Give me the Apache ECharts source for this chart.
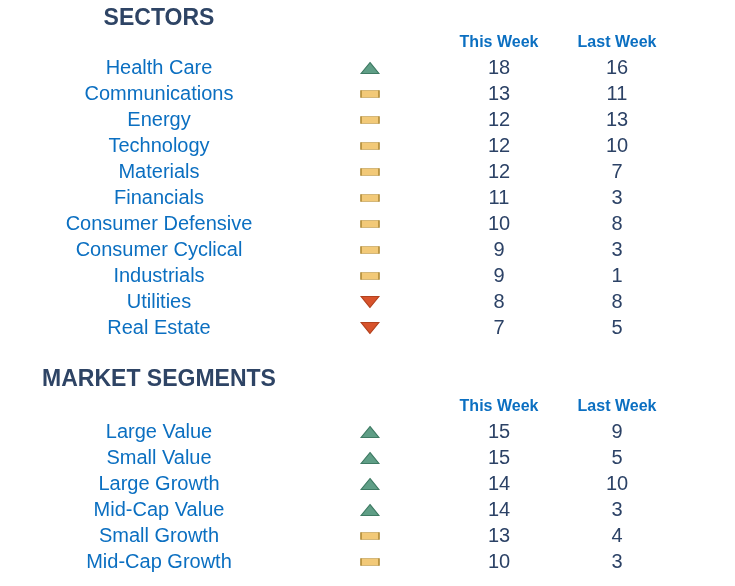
<!DOCTYPE html>
<html>
<head>
<meta charset="utf-8">
<script src="https://cdn.jsdelivr.net/npm/echarts@6/dist/echarts.min.js"></script>
<style>
  html, body { margin: 0; padding: 0; background: #fff; }
  #chart { width: 735px; height: 586px; }
</style>
</head>
<body>
<div id="chart"></div>
<script>
// sectors table
var sectorNames = ['Health Care', 'Communications', 'Energy', 'Technology', 'Materials', 'Financials',
  'Consumer Defensive', 'Consumer Cyclical', 'Industrials', 'Utilities', 'Real Estate'];
var sectorTrend = ['up', 'flat', 'flat', 'flat', 'flat', 'flat', 'flat', 'flat', 'flat', 'down', 'down'];
var sectorThisWeek = [18, 13, 12, 12, 12, 11, 10, 9, 9, 8, 7];
var sectorLastWeek = [16, 11, 13, 10, 7, 3, 8, 3, 1, 8, 5];

// market segments table
var segmentNames = ['Large Value', 'Small Value', 'Large Growth', 'Mid-Cap Value', 'Small Growth', 'Mid-Cap Growth'];
var segmentTrend = ['up', 'up', 'up', 'up', 'flat', 'flat'];
var segmentThisWeek = [15, 15, 14, 14, 13, 10];
var segmentLastWeek = [9, 5, 10, 3, 4, 3];

var columnHeaders = ['This Week', 'Last Week'];

var FONT = '"Liberation Sans", Arial, sans-serif';
var BLUE = '#0b6fc1';
var NAVY = '#2c4266';
// x position of each column on the hidden value axis
var col = { name: 159, trend: 370, thisWk: 499, lastWk: 617 };

var trendStyle = {
  up: { symbol: 'triangle', symbolSize: [18, 11], symbolRotate: 0, itemStyle: { color: '#5f9e86', borderColor: '#3f7b64', borderWidth: 1, opacity: 1 } },
  flat: { symbol: 'rect', symbolSize: [18, 7], symbolRotate: 0, itemStyle: { color: '#f2c978', borderColor: '#b08a36', borderWidth: 1, opacity: 1 } },
  down: { symbol: 'triangle', symbolSize: [18, 11], symbolRotate: 180, itemStyle: { color: '#d8532c', borderColor: '#b3421e', borderWidth: 1, opacity: 1 } }
};

function textSeries(gi, names, x, values, color) {
  return {
    type: 'scatter', xAxisIndex: gi, yAxisIndex: gi,
    symbolSize: 1, itemStyle: { color: 'transparent', opacity: 1 }, silent: true,
    data: names.map(function (n, i) { return [x, n, values ? values[i] : n]; }),
    label: {
      show: true, position: 'inside', color: color, fontFamily: FONT, fontSize: 20, opacity: 1,
      formatter: function (p) { return p.value[2]; }
    }
  };
}

function trendSeries(gi, names, trends) {
  return {
    type: 'scatter', xAxisIndex: gi, yAxisIndex: gi, silent: true,
    itemStyle: { opacity: 1 },
    data: names.map(function (n, i) {
      var s = trendStyle[trends[i]];
      return { value: [col.trend, n], symbol: s.symbol, symbolSize: s.symbolSize, symbolRotate: s.symbolRotate, itemStyle: s.itemStyle };
    })
  };
}

function axesFor(names) {
  return {
    x: { type: 'value', min: 0, max: 735, show: false },
    y: { type: 'category', data: names, inverse: true, show: false }
  };
}

var a0 = axesFor(sectorNames), a1 = axesFor(segmentNames);
a0.x.gridIndex = 0; a0.y.gridIndex = 0;
a1.x.gridIndex = 1; a1.y.gridIndex = 1;

function header(text, x, y, size, color) {
  return { type: 'text', x: x, y: y, style: { text: text, fill: color, font: 'bold ' + size + 'px ' + FONT, textAlign: 'center', textVerticalAlign: 'middle' } };
}

var chart = echarts.init(document.getElementById('chart'));
chart.setOption({
  animation: false,
  grid: [
    { left: 0, width: 735, top: 55, height: 286 },
    { left: 0, width: 735, top: 419, height: 156 }
  ],
  xAxis: [a0.x, a1.x],
  yAxis: [a0.y, a1.y],
  graphic: [
    header('SECTORS', col.name, 19, 23, '#2e4465'),
    header(columnHeaders[0], col.thisWk, 43, 16, BLUE),
    header(columnHeaders[1], col.lastWk, 43, 16, BLUE),
    header('MARKET SEGMENTS', col.name, 380, 23, '#2e4465'),
    header(columnHeaders[0], col.thisWk, 407, 16, BLUE),
    header(columnHeaders[1], col.lastWk, 407, 16, BLUE)
  ],
  series: [
    textSeries(0, sectorNames, col.name, null, BLUE),
    trendSeries(0, sectorNames, sectorTrend),
    textSeries(0, sectorNames, col.thisWk, sectorThisWeek, NAVY),
    textSeries(0, sectorNames, col.lastWk, sectorLastWeek, NAVY),
    textSeries(1, segmentNames, col.name, null, BLUE),
    trendSeries(1, segmentNames, segmentTrend),
    textSeries(1, segmentNames, col.thisWk, segmentThisWeek, NAVY),
    textSeries(1, segmentNames, col.lastWk, segmentLastWeek, NAVY)
  ]
});
</script>
</body>
</html>
